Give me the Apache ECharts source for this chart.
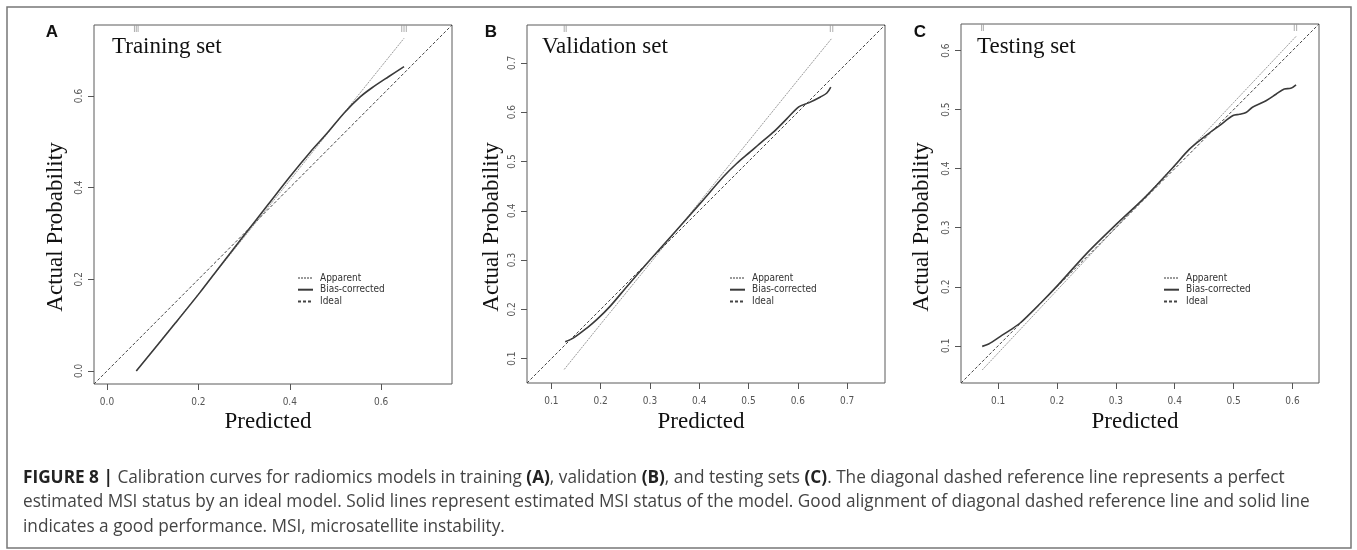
<!DOCTYPE html>
<html>
<head>
<meta charset="utf-8">
<script src="https://cdn.jsdelivr.net/npm/echarts@6/dist/echarts.min.js"></script>
<style>
  html, body { margin: 0; padding: 0; background: #fff; }
  #chart { width: 1357px; height: 550px; }
</style>
</head>
<body>
<div id="chart"></div>
<script>
// Calibration curves: predicted vs. actual probability for three data sets.

// Panel A - training set
const trainApparentPred = [0.064, 0.20, 0.30, 0.40, 0.50, 0.60, 0.650];
const trainApparentAct  = [0.000, 0.168, 0.292, 0.416, 0.540, 0.664, 0.726];
const trainBiasPred = [0.064, 0.15, 0.204, 0.25, 0.30, 0.35, 0.401, 0.445, 0.481, 0.518, 0.554, 0.580, 0.616, 0.650];
const trainBiasAct  = [0.000, 0.105, 0.172, 0.232, 0.296, 0.360, 0.425, 0.478, 0.518, 0.562, 0.598, 0.618, 0.642, 0.664];
const trainRug = [0.060, 0.064, 0.068, 0.645, 0.650, 0.655];
const trainTicks = [0.0, 0.2, 0.4, 0.6];

// Panel B - validation set
const validApparentPred = [0.126, 0.20, 0.30, 0.40, 0.50, 0.60, 0.669];
const validApparentAct  = [0.078, 0.170, 0.293, 0.417, 0.541, 0.665, 0.750];
const validBiasPred = [0.128, 0.145, 0.172, 0.192, 0.219, 0.253, 0.300, 0.348, 0.402, 0.449, 0.476, 0.504, 0.527, 0.551, 0.578, 0.602, 0.622, 0.646, 0.659, 0.667];
const validBiasAct  = [0.134, 0.142, 0.162, 0.179, 0.206, 0.246, 0.300, 0.354, 0.415, 0.469, 0.496, 0.520, 0.540, 0.560, 0.587, 0.611, 0.619, 0.631, 0.639, 0.651];
const validRug = [0.126, 0.130, 0.666, 0.671];
const validTicks = [0.1, 0.2, 0.3, 0.4, 0.5, 0.6, 0.7];

// Panel C - testing set
const testApparentPred = [0.073, 0.20, 0.30, 0.40, 0.50, 0.606];
const testApparentAct  = [0.059, 0.194, 0.300, 0.406, 0.512, 0.624];
const testBiasPred = [0.073, 0.084, 0.104, 0.121, 0.138, 0.172, 0.200, 0.251, 0.301, 0.352, 0.397, 0.425, 0.453, 0.476, 0.499, 0.510, 0.521, 0.532, 0.555, 0.572, 0.586, 0.597, 0.606];
const testBiasAct  = [0.099, 0.103, 0.116, 0.127, 0.139, 0.172, 0.201, 0.257, 0.306, 0.354, 0.402, 0.433, 0.456, 0.473, 0.490, 0.492, 0.495, 0.504, 0.515, 0.526, 0.535, 0.536, 0.542];
const testRug = [0.072, 0.075, 0.603, 0.607];
const testTicks = [0.1, 0.2, 0.3, 0.4, 0.5, 0.6];

const seriesNames = ['Apparent', 'Bias-corrected', 'Ideal'];
const panelLetters = ['A', 'B', 'C'];
const panelTitles = ['Training set', 'Validation set', 'Testing set'];
const xAxisTitle = 'Predicted';
const yAxisTitle = 'Actual Probability';
const captionLines = [
  '{b|FIGURE 8 |} Calibration curves for radiomics models in training {b|(A)}, validation {b|(B)}, and testing sets {b|(C)}. The diagonal dashed reference line represents a perfect',
  'estimated MSI status by an ideal model. Solid lines represent estimated MSI status of the model. Good alignment of diagonal dashed reference line and solid line',
  'indicates a good performance. MSI, microsatellite instability.'
];

const zip = (xs, ys) => xs.map((x, i) => [x, ys[i]]);

const panels = [
  { app: zip(trainApparentPred, trainApparentAct), bias: zip(trainBiasPred, trainBiasAct), rug: trainRug, ticks: trainTicks,
    lim: [-0.0285, 0.755], grid: { left: 94, top: 25, width: 358, height: 359 },
    letterX: 52, titleX: 112, ylabX: 56, legendX: 297 },
  { app: zip(validApparentPred, validApparentAct), bias: zip(validBiasPred, validBiasAct), rug: validRug, ticks: validTicks,
    lim: [0.0505, 0.777], grid: { left: 527, top: 25, width: 358, height: 358 },
    letterX: 491, titleX: 542, ylabX: 492, legendX: 729 },
  { app: zip(testApparentPred, testApparentAct), bias: zip(testBiasPred, testBiasAct), rug: testRug, ticks: testTicks,
    lim: [0.037, 0.645], grid: { left: 961, top: 24, width: 358, height: 359 },
    letterX: 920, titleX: 977, ylabX: 922, legendX: 1163 }
];

const smallFont = "'Liberation Sans Narrow', 'DejaVu Sans Condensed', 'Liberation Sans', sans-serif";
const serifFont = "'Liberation Serif', 'DejaVu Serif', serif";
const sansFont = "'Liberation Sans', Arial, sans-serif";
const captionFont = "'Open Sans', 'Liberation Sans', sans-serif";

// size the caption so its first line spans the figure width
function captionSize() {
  const ctx = document.createElement('canvas').getContext('2d');
  const parts = captionLines[0].split(/(\{b\|[^}]*\})/).filter(s => s.length);
  let w = 0;
  parts.forEach(s => {
    const bold = s.startsWith('{b|');
    ctx.font = (bold ? 'bold ' : '') + '100px ' + captionFont;
    w += ctx.measureText(bold ? s.slice(3, -1) : s).width;
  });
  return Math.max(14, Math.min(18, 100 * 1262 / w));
}
const capSize = captionSize();

const grids = [], xAxes = [], yAxes = [], series = [], legends = [], graphics = [];

panels.forEach((p, i) => {
  grids.push(Object.assign({ show: true, borderColor: '#5a5a5a', borderWidth: 1, backgroundColor: 'transparent' }, p.grid));

  const axisCommon = {
    type: 'value', min: p.lim[0], max: p.lim[1], gridIndex: i,
    splitLine: { show: false },
    axisLine: { show: false, onZero: false },
    axisTick: { show: true, inside: false, length: 6, customValues: p.ticks, lineStyle: { color: '#555', width: 1 } },
    axisLabel: { customValues: p.ticks, formatter: v => v.toFixed(1), color: '#555', fontSize: 10, fontFamily: smallFont }
  };
  xAxes.push(Object.assign({}, axisCommon, { position: 'bottom', axisLabel: Object.assign({}, axisCommon.axisLabel, { margin: 13 }) }));
  yAxes.push(Object.assign({}, axisCommon, { position: 'left', axisLabel: Object.assign({}, axisCommon.axisLabel, { margin: 10, rotate: 90 }) }));

  series.push({
    name: seriesNames[0], type: 'line', xAxisIndex: i, yAxisIndex: i, data: p.app,
    showSymbol: false, symbol: 'none', smooth: false, silent: true,
    lineStyle: { color: '#9a9a9a', width: 1, type: [2, 1] }, itemStyle: { color: '#9a9a9a', opacity: 0 }
  });
  series.push({
    name: seriesNames[1], type: 'line', xAxisIndex: i, yAxisIndex: i, data: p.bias,
    showSymbol: false, symbol: 'none', smooth: 0.3, silent: true,
    lineStyle: { color: '#3a3a3a', width: 1.6, type: 'solid' }, itemStyle: { color: '#3a3a3a', opacity: 0 }
  });
  series.push({
    name: seriesNames[2], type: 'line', xAxisIndex: i, yAxisIndex: i, data: [[p.lim[0], p.lim[0]], [p.lim[1], p.lim[1]]],
    showSymbol: false, symbol: 'none', silent: true,
    lineStyle: { color: '#444', width: 1, type: [3, 2] }, itemStyle: { color: '#444', opacity: 0 }
  });
  // rug of predicted values along the top edge
  series.push({
    type: 'scatter', xAxisIndex: i, yAxisIndex: i, silent: true,
    data: p.rug.map(v => [v, p.lim[1]]),
    symbol: 'rect', symbolSize: [1, 7], symbolOffset: [0, 3.5],
    itemStyle: { color: '#999' }
  });

  legends.push({
    data: seriesNames, orient: 'vertical', left: p.legendX, top: 273,
    itemWidth: 15, itemHeight: 10, itemGap: 1.7, padding: 0,
    selectedMode: false,
    itemStyle: { opacity: 0 },
    textStyle: { fontSize: 10, fontFamily: smallFont, color: '#333', padding: [0, 0, 0, 2] }
  });

  graphics.push({
    type: 'text', x: p.letterX, y: 32,
    style: { text: panelLetters[i], font: 'bold 17px ' + sansFont, fill: '#111',
      textAlign: 'center', textVerticalAlign: 'middle', align: 'center', verticalAlign: 'middle' }
  });
  graphics.push({
    type: 'text', x: p.titleX, y: 47,
    style: { text: panelTitles[i], font: '23px ' + serifFont, fill: '#111',
      textAlign: 'left', textVerticalAlign: 'middle', align: 'left', verticalAlign: 'middle' }
  });
  graphics.push({
    type: 'text', x: p.ylabX, y: 227, rotation: Math.PI / 2,
    style: { text: yAxisTitle, font: '23px ' + serifFont, fill: '#111',
      textAlign: 'center', textVerticalAlign: 'middle', align: 'center', verticalAlign: 'middle' }
  });
  graphics.push({
    type: 'text', x: p.grid.left + p.grid.width / 2 - 5, y: 422,
    style: { text: xAxisTitle, font: '23px ' + serifFont, fill: '#111',
      textAlign: 'center', textVerticalAlign: 'middle', align: 'center', verticalAlign: 'middle' }
  });
});

// outer frame
graphics.push({
  type: 'rect', shape: { x: 7, y: 7, width: 1344, height: 541 },
  style: { fill: 'none', stroke: '#777', lineWidth: 1.5 }, silent: true
});

// caption
const captionY = [478, 502.5, 527];
captionLines.forEach((line, k) => {
  graphics.push({
    type: 'text', x: 23, y: captionY[k],
    style: {
      text: line, font: capSize + 'px ' + captionFont, fill: '#444',
      textAlign: 'left', textVerticalAlign: 'middle', align: 'left', verticalAlign: 'middle',
      rich: { b: { fontWeight: 'bold', fill: '#222', color: '#222', fontSize: capSize, fontFamily: captionFont } }
    }
  });
});

const chart = echarts.init(document.getElementById('chart'), null, { renderer: 'canvas' });
chart.setOption({
  animation: false,
  backgroundColor: '#fff',
  grid: grids,
  xAxis: xAxes,
  yAxis: yAxes,
  legend: legends,
  series: series,
  graphic: graphics
});
</script>
</body>
</html>
